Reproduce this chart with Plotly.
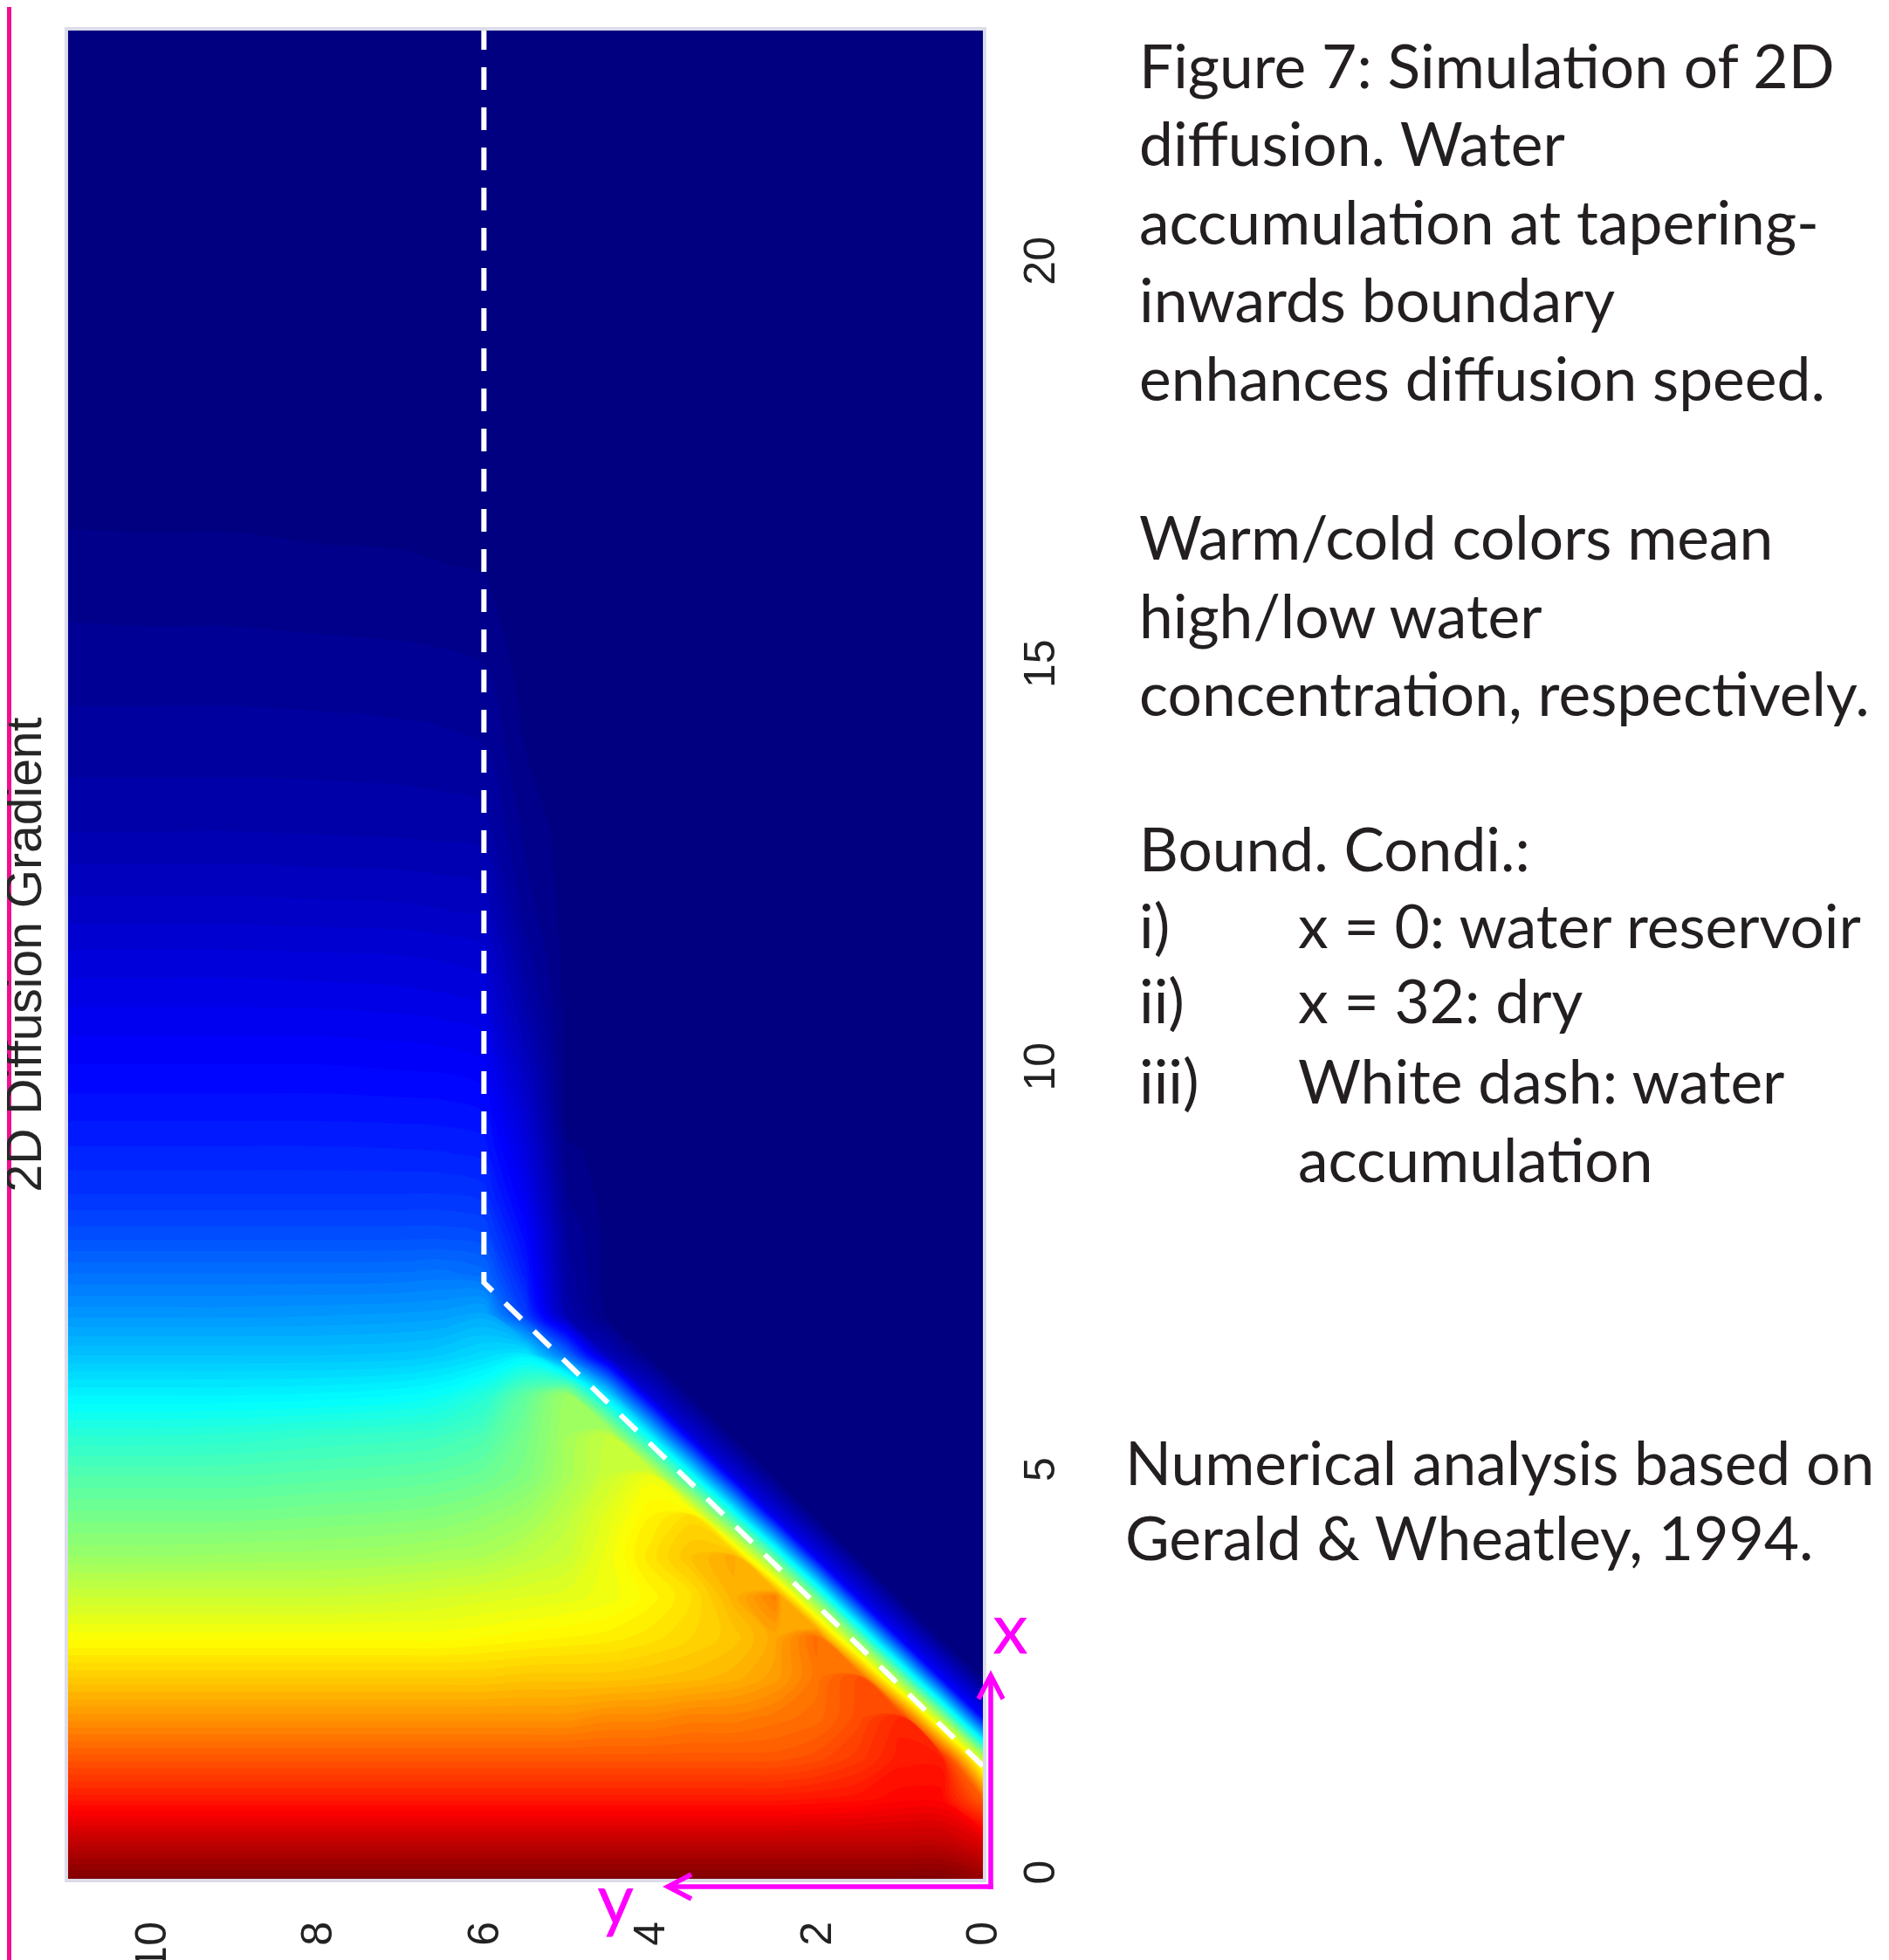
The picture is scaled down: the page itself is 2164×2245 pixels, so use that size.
import plotly.graph_objects as go

# ---------------- data ----------------
# horizontal coordinate of the grid ("y", 0 at right edge)
y_cols = [0, 0.5, 1, 1.5, 2, 2.5, 3, 3.5, 4, 4.5, 5, 5.5, 6, 6.5, 7, 8, 9, 10, 11]
# vertical coordinate of the grid ("x", 0 at bottom)
x_rows = [0, 0.5, 1, 1.5, 2, 2.5, 3, 3.5, 4, 4.5, 5, 5.5, 6, 6.5, 7, 7.5, 8, 8.5,
          9, 9.5, 10, 10.5, 11, 11.5, 12, 13, 14, 15, 16, 17, 18, 23]
# water concentration (0 = dry, 1 = reservoir), one row per x_rows value
conc = [
    [0.98, 1.00, 1.00, 1.00, 1.00, 1.00, 1.00, 1.00, 1.00, 1.00, 1.00, 1.00, 1.00, 1.00, 1.00, 1.00, 1.00, 1.00, 1.00],
    [0.90, 0.93, 0.93, 0.93, 0.93, 0.93, 0.93, 0.93, 0.93, 0.93, 0.93, 0.93, 0.93, 0.93, 0.93, 0.93, 0.93, 0.93, 0.93],
    [0.78, 0.87, 0.87, 0.86, 0.855, 0.85, 0.85, 0.85, 0.85, 0.85, 0.85, 0.85, 0.85, 0.85, 0.85, 0.85, 0.85, 0.85, 0.85],
    [0.56, 0.85, 0.85, 0.82, 0.80, 0.79, 0.79, 0.79, 0.79, 0.79, 0.79, 0.79, 0.79, 0.79, 0.79, 0.79, 0.79, 0.79, 0.79],
    [0.125, 0.54, 0.84, 0.80, 0.77, 0.76, 0.75, 0.75, 0.74, 0.74, 0.73, 0.73, 0.73, 0.73, 0.73, 0.73, 0.73, 0.73, 0.73],
    [0.00, 0.12, 0.51, 0.80, 0.76, 0.72, 0.70, 0.69, 0.685, 0.68, 0.68, 0.68, 0.675, 0.675, 0.675, 0.675, 0.675, 0.675, 0.675],
    [0, 0, 0.115, 0.49, 0.77, 0.71, 0.68, 0.665, 0.65, 0.64, 0.635, 0.63, 0.625, 0.62, 0.62, 0.62, 0.62, 0.62, 0.62],
    [0, 0, 0, 0.11, 0.48, 0.75, 0.70, 0.655, 0.63, 0.61, 0.60, 0.595, 0.59, 0.585, 0.58, 0.575, 0.575, 0.575, 0.575],
    [0, 0, 0, 0, 0.107, 0.455, 0.71, 0.685, 0.65, 0.61, 0.575, 0.56, 0.545, 0.54, 0.535, 0.53, 0.528, 0.525, 0.525],
    [0, 0, 0, 0, 0, 0.099, 0.42, 0.66, 0.635, 0.60, 0.56, 0.53, 0.515, 0.505, 0.50, 0.495, 0.49, 0.49, 0.49],
    [0, 0, 0, 0, 0, 0, 0.092, 0.39, 0.61, 0.575, 0.54, 0.50, 0.48, 0.47, 0.465, 0.46, 0.455, 0.455, 0.455],
    [0, 0, 0, 0, 0, 0, 0, 0.086, 0.365, 0.57, 0.535, 0.49, 0.45, 0.435, 0.43, 0.425, 0.418, 0.415, 0.415],
    [0, 0, 0, 0, 0, 0, 0, 0, 0.08, 0.34, 0.53, 0.47, 0.41, 0.385, 0.375, 0.368, 0.365, 0.365, 0.365],
    [0, 0, 0, 0, 0, 0, 0, 0, 0, 0.054, 0.23, 0.36, 0.34, 0.325, 0.318, 0.315, 0.315, 0.315, 0.315],
    [0, 0, 0, 0, 0, 0, 0, 0, 0, 0, 0.044, 0.185, 0.29, 0.28, 0.277, 0.274, 0.272, 0.272, 0.272],
    [0, 0, 0, 0, 0, 0, 0, 0, 0, 0, 0.03, 0.15, 0.23, 0.24, 0.237, 0.236, 0.236, 0.236, 0.236],
    [0, 0, 0, 0, 0, 0, 0, 0, 0, 0, 0.025, 0.13, 0.195, 0.20, 0.20, 0.20, 0.20, 0.20, 0.20],
    [0, 0, 0, 0, 0, 0, 0, 0, 0, 0, 0.015, 0.11, 0.17, 0.175, 0.175, 0.175, 0.175, 0.175, 0.175],
    [0, 0, 0, 0, 0, 0, 0, 0, 0, 0, 0.008, 0.095, 0.152, 0.156, 0.157, 0.158, 0.158, 0.158, 0.158],
    [0, 0, 0, 0, 0, 0, 0, 0, 0, 0, 0, 0.08, 0.136, 0.14, 0.141, 0.142, 0.142, 0.142, 0.142],
    [0, 0, 0, 0, 0, 0, 0, 0, 0, 0, 0, 0.065, 0.12, 0.125, 0.126, 0.128, 0.128, 0.128, 0.128],
    [0, 0, 0, 0, 0, 0, 0, 0, 0, 0, 0, 0.05, 0.105, 0.11, 0.112, 0.114, 0.114, 0.114, 0.114],
    [0, 0, 0, 0, 0, 0, 0, 0, 0, 0, 0, 0.037, 0.09, 0.095, 0.097, 0.099, 0.10, 0.10, 0.10],
    [0, 0, 0, 0, 0, 0, 0, 0, 0, 0, 0, 0.029, 0.078, 0.082, 0.084, 0.085, 0.086, 0.086, 0.086],
    [0, 0, 0, 0, 0, 0, 0, 0, 0, 0, 0, 0.02, 0.063, 0.066, 0.068, 0.069, 0.07, 0.07, 0.07],
    [0, 0, 0, 0, 0, 0, 0, 0, 0, 0, 0, 0.012, 0.04, 0.042, 0.043, 0.044, 0.045, 0.045, 0.045],
    [0, 0, 0, 0, 0, 0, 0, 0, 0, 0, 0, 0.005, 0.026, 0.028, 0.029, 0.03, 0.03, 0.03, 0.03],
    [0, 0, 0, 0, 0, 0, 0, 0, 0, 0, 0, 0, 0.016, 0.018, 0.019, 0.02, 0.021, 0.021, 0.021],
    [0, 0, 0, 0, 0, 0, 0, 0, 0, 0, 0, 0, 0.006, 0.007, 0.008, 0.009, 0.01, 0.01, 0.011],
    [0, 0, 0, 0, 0, 0, 0, 0, 0, 0, 0, 0, 0.001, 0.001, 0.002, 0.002, 0.003, 0.003, 0.003],
    [0, 0, 0, 0, 0, 0, 0, 0, 0, 0, 0, 0, 0, 0, 0, 0, 0, 0, 0],
    [0, 0, 0, 0, 0, 0, 0, 0, 0, 0, 0, 0, 0, 0, 0, 0, 0, 0, 0],
]

# white dashed boundary (water accumulation)
boundary_y = [0, 6, 6]
boundary_x = [1.4, 7.4, 23]

# tick labels
x_ticks = [0, 2, 4, 6, 8, 10]
y_ticks = [0, 5, 10, 15, 20]

title_text = "2D Diffusion Gradient"

caption_lines = [
    ("Figure 7: Simulation of 2D", 1303, 101),
    ("diffusion. Water", 1303, 190),
    ("accumulation at tapering-", 1303, 280),
    ("inwards boundary", 1303, 369),
    ("enhances diffusion speed.", 1303, 459),
    ("Warm/cold colors mean", 1303, 641),
    ("high/low water", 1303, 731),
    ("concentration, respectively.", 1303, 820),
    ("Bound. Condi.:", 1303, 998),
    ("i)", 1303, 1086),
    ("x = 0: water reservoir", 1485, 1086),
    ("ii)", 1303, 1172),
    ("x = 32: dry", 1485, 1172),
    ("iii)", 1303, 1264),
    ("White dash: water", 1485, 1264),
    ("accumulation", 1485, 1354),
    ("Numerical analysis based on", 1287, 1701),
    ("Gerald & Wheatley, 1994.", 1287, 1787),
]

# ---------------- layout helpers ----------------
# the page body has an 8 px margin, so the figure is placed 8 px in
OFF = 8
W, H = 2164 - OFF, 2245 - OFF
PL, PR, PT, PB = 78, 1126, 35, 2152   # plot area in page pixels


def px(v):
    return (v - PL) / (PR - PL)


def py(v):
    return (PB - v) / (PB - PT)


jet = [
    [0.0, "#000080"],
    [0.125, "#0000FF"],
    [0.375, "#00FFFF"],
    [0.625, "#FFFF00"],
    [0.875, "#FF0000"],
    [1.0, "#800000"],
]

fig = go.Figure()
fig.add_trace(go.Contour(
    x=y_cols, y=x_rows, z=conc,
    colorscale=jet, zmin=0, zmax=1, zauto=False,
    contours=dict(start=0.005, end=0.995, size=0.01, coloring="fill", showlines=False),
    line=dict(width=0),
    showscale=False, hoverinfo="skip",
))

fig.add_trace(go.Scatter(
    x=boundary_y, y=boundary_x, mode="lines",
    line=dict(color="white", width=6, dash="26px,20px"),
    hoverinfo="skip", showlegend=False,
))

tickfont = dict(family="Liberation Sans, Arial, sans-serif", size=50, color="#222222")

fig.update_layout(
    width=W, height=H,
    margin=dict(l=PL - OFF, r=W - (PR - OFF), t=PT - OFF, b=H - (PB - OFF), autoexpand=False),
    paper_bgcolor="white", plot_bgcolor="#000080",
    showlegend=False,
    xaxis=dict(
        range=[11, 0], tickmode="array", tickvals=x_ticks,
        ticktext=[str(t) for t in x_ticks], tickangle=-90,
        ticks="outside", ticklen=28, tickcolor="rgba(0,0,0,0)",
        showgrid=False, zeroline=False, showline=False, tickfont=tickfont,
    ),
    yaxis=dict(
        range=[0, 22.94], side="right", tickmode="array", tickvals=y_ticks,
        ticktext=[str(t) for t in y_ticks], tickangle=-90,
        ticks="outside", ticklen=21, tickcolor="rgba(0,0,0,0)",
        showgrid=False, zeroline=False, showline=False, tickfont=tickfont,
    ),
)

PINK = "#FF00FF"
shapes = [
    # light frame around the image
    dict(type="rect", xref="paper", yref="paper",
         x0=px(76), x1=px(1128), y0=py(2154), y1=py(33),
         line=dict(color="#DCDCEA", width=4), layer="above"),
    # left pink rule
    dict(type="line", xref="paper", yref="paper",
         x0=px(10.5), x1=px(10.5), y0=py(0), y1=py(2245),
         line=dict(color="#EE1090", width=5), layer="above"),
    # x arrow
    dict(type="path", xref="paper", yref="paper",
         path=f"M {px(1135)},{py(2164)} L {px(1135)},{py(1920)}",
         line=dict(color=PINK, width=5.5), layer="above"),
    dict(type="path", xref="paper", yref="paper",
         path=f"M {px(1121)},{py(1946)} L {px(1135)},{py(1919)} L {px(1149)},{py(1946)}",
         line=dict(color=PINK, width=5.5), layer="above"),
    # y arrow
    dict(type="path", xref="paper", yref="paper",
         path=f"M {px(1137.7)},{py(2161)} L {px(766)},{py(2161)}",
         line=dict(color=PINK, width=5.5), layer="above"),
    dict(type="path", xref="paper", yref="paper",
         path=f"M {px(792)},{py(2147)} L {px(765)},{py(2161)} L {px(792)},{py(2175)}",
         line=dict(color=PINK, width=5.5), layer="above"),
]
fig.update_layout(shapes=shapes)

annotations = []
CAP_SIZE = 69.5
for text, xl, base in caption_lines:
    annotations.append(dict(
        text=text, xref="paper", yref="paper",
        x=px(xl), y=py(base - 0.387 * CAP_SIZE),
        xanchor="left", yanchor="middle", showarrow=False,
        font=dict(family="Lato", size=CAP_SIZE, color="#231F20"),
    ))

annotations.append(dict(
    text=title_text, xref="paper", yref="paper",
    x=px(26.5), y=py(1094), xanchor="center", yanchor="middle",
    textangle=-90, showarrow=False,
    font=dict(family="Liberation Sans, Arial, sans-serif", size=57, color="#262626"),
))
annotations.append(dict(
    text="x", xref="paper", yref="paper",
    x=px(1157), y=py(1862), xanchor="center", yanchor="middle", showarrow=False,
    font=dict(family="Lato", size=82, color=PINK),
))
annotations.append(dict(
    text="y", xref="paper", yref="paper",
    x=px(705), y=py(2172), xanchor="center", yanchor="middle", showarrow=False,
    font=dict(family="Lato", size=82, color=PINK),
))
fig.update_layout(annotations=annotations)

fig.write_html("out.html")
